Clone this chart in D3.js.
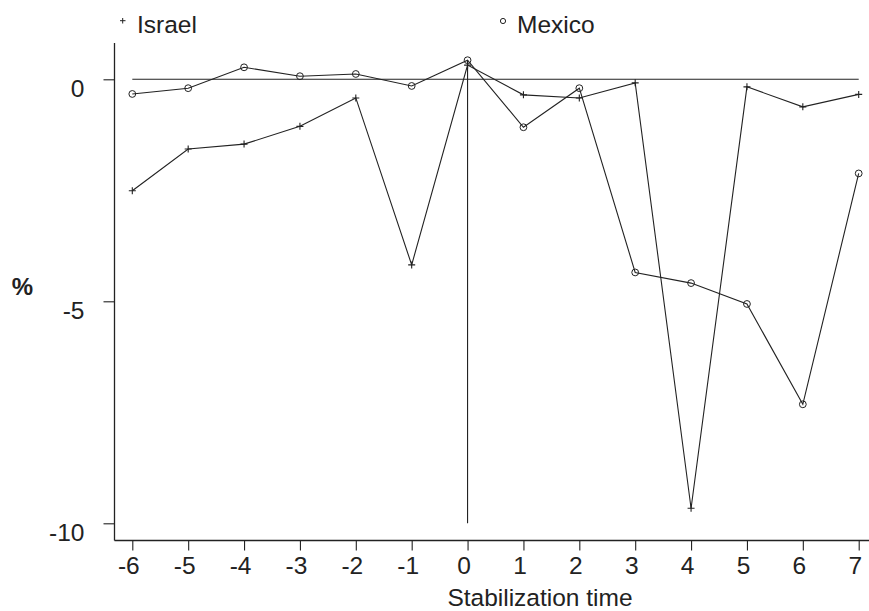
<!DOCTYPE html>
<html>
<head>
<meta charset="utf-8">
<script src="https://cdn.jsdelivr.net/npm/d3@7"></script>
<style>
  html, body { margin: 0; padding: 0; background: #fff; }
  svg { display: block; font-family: "Liberation Sans", Arial, sans-serif; }
</style>
</head>
<body>
<svg id="chart" width="869" height="611"></svg>
<script>
// Stabilization time (years relative to the programme start)
const periods = [-6, -5, -4, -3, -2, -1, 0, 1, 2, 3, 4, 5, 6, 7];
// Series values, in percent
const israel = [-2.51, -1.57, -1.46, -1.06, -0.42, -4.18, 0.32, -0.35, -0.42, -0.08, -9.66, -0.17, -0.62, -0.34];
const mexico = [-0.33, -0.20, 0.27, 0.07, 0.12, -0.15, 0.43, -1.08, -0.20, -4.35, -4.59, -5.06, -7.32, -2.12];
// Axis ticks
const xTicks = [-6, -5, -4, -3, -2, -1, 0, 1, 2, 3, 4, 5, 6, 7];
const yTicks = [0, -5, -10];

const ink = "#222";
const fontSize = 24.5;
const svg = d3.select("#chart");

const x = d3.scaleLinear().domain([-6, 7]).range([132.3, 858.7]);
const y = d3.scaleLinear().domain([0, -10]).range([79.3, 523.3]);

const axisLeftX = 114.5, axisBottomY = 540.5;

// Axis lines
svg.append("line")
  .attr("x1", axisLeftX).attr("x2", axisLeftX)
  .attr("y1", 43).attr("y2", axisBottomY)
  .attr("stroke", ink).attr("stroke-width", 1.3);
svg.append("line")
  .attr("x1", axisLeftX).attr("x2", 869)
  .attr("y1", axisBottomY).attr("y2", axisBottomY)
  .attr("stroke", ink).attr("stroke-width", 1.3);

// Y axis
const gy = svg.append("g")
  .attr("transform", `translate(${axisLeftX},0)`)
  .call(d3.axisLeft(y).tickValues(yTicks).tickSize(11).tickPadding(0).tickFormat(d3.format("d")));
gy.select(".domain").remove();
gy.selectAll(".tick line").attr("stroke", ink).attr("stroke-width", 1.1);
gy.selectAll(".tick text")
  .attr("x", -30).attr("dy", null).attr("y", 17)
  .attr("fill", ink).attr("font-size", fontSize)
  .attr("font-family", "Liberation Sans, Arial, sans-serif")
  .text(d => d === 0 ? "0" : "-" + Math.abs(d));

// X axis
const gx = svg.append("g")
  .attr("transform", `translate(0,${axisBottomY})`)
  .call(d3.axisBottom(x).tickValues(xTicks).tickSize(10).tickPadding(0).tickFormat(d => d < 0 ? "-" + Math.abs(d) : String(d)));
gx.select(".domain").remove();
gx.selectAll(".tick line").attr("stroke", ink).attr("stroke-width", 1.1);
gx.selectAll(".tick text")
  .attr("y", 33.5).attr("dy", null).attr("dx", -4)
  .attr("fill", ink).attr("font-size", fontSize)
  .attr("font-family", "Liberation Sans, Arial, sans-serif");

// Axis titles
svg.append("text")
  .attr("x", 540).attr("y", 606)
  .attr("text-anchor", "middle")
  .attr("font-size", 24.5).attr("fill", ink)
  .text("Stabilization time");
svg.append("text")
  .attr("x", 22.5).attr("y", 295)
  .attr("text-anchor", "middle")
  .attr("font-size", 24).attr("font-weight", "bold").attr("fill", ink)
  .text("%");

// Reference lines: zero line and the stabilization date
svg.append("line")
  .attr("x1", x(-6)).attr("x2", x(7))
  .attr("y1", y(0)).attr("y2", y(0))
  .attr("stroke", ink).attr("stroke-width", 1.1);
svg.append("line")
  .attr("x1", x(0)).attr("x2", x(0))
  .attr("y1", y(-10)).attr("y2", y(mexico[periods.indexOf(0)]))
  .attr("stroke", ink).attr("stroke-width", 1.1);

const line = d3.line().x((d, i) => x(periods[i])).y(d => y(d));

function drawSeries(values, marker) {
  svg.append("path")
    .datum(values)
    .attr("d", line)
    .attr("fill", "none")
    .attr("stroke", ink)
    .attr("stroke-width", 1.1);
  const g = svg.append("g");
  values.forEach((v, i) => {
    const cx = x(periods[i]), cy = y(v);
    if (marker === "plus") {
      g.append("path")
        .attr("d", `M${cx - 3.5},${cy}H${cx + 3.5}M${cx},${cy - 3.5}V${cy + 3.5}`)
        .attr("stroke", ink).attr("stroke-width", 1.1);
    } else {
      g.append("circle")
        .attr("cx", cx).attr("cy", cy).attr("r", 3.4)
        .attr("fill", "none").attr("stroke", ink).attr("stroke-width", 1);
    }
  });
}
drawSeries(israel, "plus");
drawSeries(mexico, "circle");

// Legend
const legend = svg.append("g");
legend.append("path")
  .attr("d", "M120,20.7H125.5M122.7,18V23.5")
  .attr("stroke", ink).attr("stroke-width", 1);
legend.append("text")
  .attr("x", 137).attr("y", 33)
  .attr("font-size", fontSize).attr("fill", ink).text("Israel");
legend.append("circle")
  .attr("cx", 503).attr("cy", 21).attr("r", 2.6)
  .attr("fill", "none").attr("stroke", ink).attr("stroke-width", 1);
legend.append("text")
  .attr("x", 517).attr("y", 33)
  .attr("font-size", fontSize).attr("fill", ink).text("Mexico");
</script>
</body>
</html>
